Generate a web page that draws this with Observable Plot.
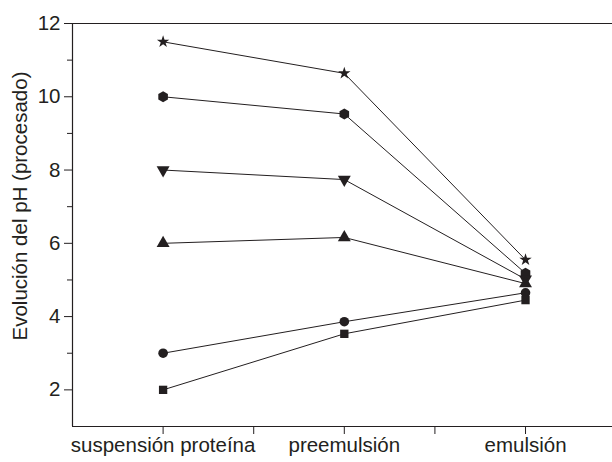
<!DOCTYPE html>
<html>
<head>
<meta charset="utf-8">
<script src="https://cdn.jsdelivr.net/npm/d3@7"></script>
<script src="https://cdn.jsdelivr.net/npm/@observablehq/plot@0.6"></script>
<style>
  html, body { margin: 0; padding: 0; background: #fff; }
  svg { font-family: "Liberation Sans", Arial, Helvetica, sans-serif; }
</style>
</head>
<body>
<div id="chart"></div>
<script>
const stages = ["suspensión proteína", "preemulsión", "emulsión"];
const yLabel = "Evolución del pH (procesado)";
const yTicks = [2, 4, 6, 8, 10, 12];
const yMinorTicks = [3, 5, 7, 9, 11];
const xMinorTicks = [1.5, 2.5];

const serieStar     = [11.5, 10.64, 5.55];
const serieHexagon  = [10.0, 9.53, 5.18];
const serieTriDown  = [8.0, 7.74, 5.02];
const serieTriUp    = [6.0, 6.16, 4.9];
const serieCircle   = [3.0, 3.86, 4.65];
const serieSquare   = [2.0, 3.53, 4.45];

const seriesList = [
  {name: "star", values: serieStar, symbol: "star", rotate: 0, r: 3.9},
  {name: "hexagon", values: serieHexagon, symbol: "hexagon", rotate: 0, r: 4.8},
  {name: "triDown", values: serieTriDown, symbol: "triangle", rotate: 180, r: 4.8},
  {name: "triUp", values: serieTriUp, symbol: "triangle", rotate: 0, r: 4.8},
  {name: "circle", values: serieCircle, symbol: "circle", rotate: 0, r: 4.8},
  {name: "square", values: serieSquare, symbol: "square", rotate: 0, r: 4.7}
];

const rows = seriesList.flatMap(s => s.values.map((v, i) => ({
  stage: i + 1, ph: v, series: s.name, symbol: s.symbol, rotate: s.rotate, size: s.r
})));

const ink = "#231f20";
const fs = 20.5;

const chart = Plot.plot({
  width: 612,
  height: 462,
  marginLeft: 72,
  marginRight: 0,
  marginTop: 23,
  marginBottom: 36,
  style: {fontSize: fs + "px", color: ink, background: "white"},
  x: {domain: [0.5, 3.48], type: "linear"},
  y: {domain: [1, 12]},
  symbol: {type: "identity"},
  r: {type: "identity"},
  marks: [
    Plot.ruleY([12], {stroke: ink, strokeWidth: 1.2}),
    Plot.ruleY([1], {stroke: ink, strokeWidth: 1.2}),
    Plot.ruleX([0.5], {stroke: ink, strokeWidth: 1.2}),
    Plot.axisY({ticks: yTicks, tickSize: 8, tickPadding: 4, label: null, fontSize: fs, stroke: ink, fill: ink}),
    Plot.axisY({ticks: yMinorTicks, tickSize: 5, tickFormat: () => "", label: null, stroke: ink}),
    Plot.axisX({ticks: [1, 2, 3], tickSize: 8, tickPadding: 3, tickFormat: d => stages[d - 1], label: null, fontSize: fs, stroke: ink, fill: ink}),
    Plot.axisX({ticks: xMinorTicks, tickSize: 8, tickFormat: () => "", label: null, stroke: ink}),
    Plot.text([yLabel], {frameAnchor: "left", textAnchor: "middle", rotate: -90, dx: -52, dy: -19, fontSize: fs, fill: ink}),
    Plot.line(rows, {x: "stage", y: "ph", z: "series", stroke: ink, strokeWidth: 1}),
    Plot.dot(rows, {x: "stage", y: "ph", symbol: "symbol", rotate: "rotate", r: "size", fill: ink, stroke: "none"})
  ]
});
document.getElementById("chart").appendChild(chart);
</script>
</body>
</html>
